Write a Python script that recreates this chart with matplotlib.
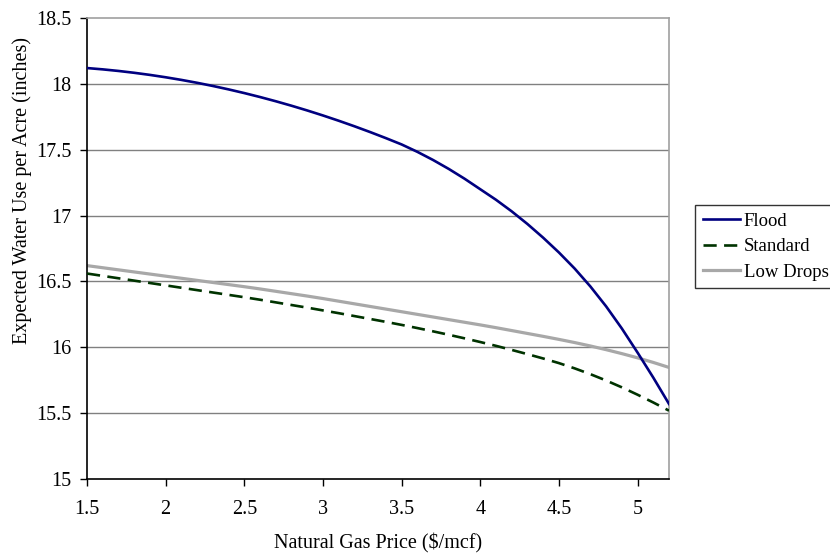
import matplotlib
matplotlib.use("Agg")
import matplotlib.pyplot as plt

price = [1.5, 1.6, 1.7, 1.8, 1.9, 2.0, 2.1, 2.2, 2.3, 2.4, 2.5, 2.6, 2.7, 2.8, 2.9,
         3.0, 3.1, 3.2, 3.3, 3.4, 3.5, 3.6, 3.7, 3.8, 3.9, 4.0, 4.1, 4.2, 4.3, 4.4,
         4.5, 4.6, 4.7, 4.8, 4.9, 5.0, 5.1, 5.2]
flood = [18.120, 18.110, 18.098, 18.084, 18.068, 18.050, 18.030, 18.008, 17.984, 17.958,
         17.930, 17.900, 17.868, 17.834, 17.798, 17.760, 17.720, 17.678, 17.634, 17.588,
         17.540, 17.484, 17.422, 17.354, 17.280, 17.200, 17.120, 17.032, 16.936, 16.832,
         16.720, 16.598, 16.462, 16.311, 16.143, 15.960, 15.770, 15.570]
standard = [16.560, 16.542, 16.524, 16.506, 16.488, 16.470, 16.452, 16.434, 16.416, 16.398,
            16.380, 16.361, 16.341, 16.321, 16.301, 16.280, 16.259, 16.237, 16.215, 16.193,
            16.170, 16.146, 16.121, 16.095, 16.068, 16.040, 16.011, 15.980, 15.948, 15.915,
            15.880, 15.840, 15.796, 15.748, 15.696, 15.640, 15.581, 15.519]
low_drops = [16.620, 16.604, 16.588, 16.572, 16.556, 16.540, 16.524, 16.508, 16.492, 16.476,
             16.460, 16.443, 16.425, 16.407, 16.389, 16.370, 16.350, 16.330, 16.310, 16.290,
             16.270, 16.250, 16.230, 16.210, 16.190, 16.170, 16.149, 16.127, 16.105, 16.083,
             16.060, 16.036, 16.010, 15.982, 15.952, 15.920, 15.885, 15.847]

xticks = [1.5, 2, 2.5, 3, 3.5, 4, 4.5, 5]
xtick_labels = ["1.5", "2", "2.5", "3", "3.5", "4", "4.5", "5"]
yticks = [15, 15.5, 16, 16.5, 17, 17.5, 18, 18.5]
ytick_labels = ["15", "15.5", "16", "16.5", "17", "17.5", "18", "18.5"]

plt.rcParams['font.family'] = ['Liberation Serif', 'DejaVu Serif']
FS = 14.5

fig = plt.figure(figsize=(8.3, 5.54), dpi=100)
ax = fig.add_axes([87/830, 1-479/554, (669-87)/830, (479-18)/554])

for y in yticks[1:-1]:
    ax.axhline(y, color='#808080', lw=1, zorder=1)

ax.plot(price, flood, color='#000080', lw=1.9, label='Flood', zorder=3)
ax.plot(price, standard, color='#003300', lw=1.9, dashes=(5, 2.8), label='Standard', zorder=3)
ax.plot(price, low_drops, color='#a8a8a8', lw=2.3, label='Low Drops', zorder=2)

ax.set_xlim(1.5, 5.2)
ax.set_ylim(15, 18.5)
ax.set_xticks(xticks)
ax.set_xticklabels(xtick_labels)
ax.set_yticks(yticks)
ax.set_yticklabels(ytick_labels)
ax.tick_params(direction='out', length=5, width=1, color='black', labelsize=FS)
ax.tick_params(axis='y', pad=6)
ax.tick_params(axis='x', pad=10)

ax.spines['left'].set_color('black')
ax.spines['bottom'].set_color('black')
ax.spines['top'].set_color('#a0a0a0')
ax.spines['right'].set_color('#a0a0a0')
for s in ax.spines.values():
    s.set_linewidth(1.2)

ax.set_xlabel('Natural Gas Price ($/mcf)', fontsize=FS)
ax.set_ylabel('Expected Water Use per Acre (inches)', fontsize=FS)
ax.xaxis.set_label_coords(0.5, -(543-479)/461, transform=ax.transAxes)
ax.xaxis.label.set_va('center')
ax.yaxis.set_label_coords(-(87-22)/582, (479-191)/461, transform=ax.transAxes)
ax.yaxis.label.set_va('center')

leg = fig.legend(loc='upper left', bbox_to_anchor=(695/830, 1-205/554), fontsize=13.5,
                 frameon=True, fancybox=False, handlelength=2.0, handletextpad=0.2,
                 borderpad=0.4, labelspacing=0.45, borderaxespad=0)
leg.get_frame().set_edgecolor('black')
leg.get_frame().set_linewidth(1)

fig.savefig('out.png', dpi=100)
